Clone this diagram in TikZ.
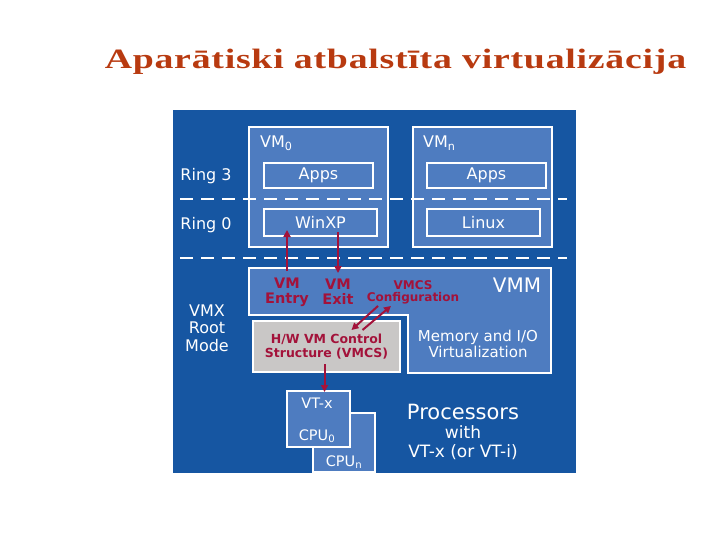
\documentclass[tikz,border=0pt]{standalone}
\usepackage{fontspec}
\setmainfont{DejaVu Sans}
\newfontfamily\titlefont[LetterSpace=2]{Liberation Serif}
\usetikzlibrary{arrows.meta, calc}

\definecolor{bgblue}{RGB}{22,86,162}
\definecolor{boxblue}{RGB}{78,124,192}
\definecolor{vmcsgrey}{RGB}{201,199,198}
\definecolor{darkred}{RGB}{163,18,58}
\definecolor{titlered}{RGB}{184,58,16}

\tikzset{
  whitebox/.style={draw=white, line width=2pt, fill=boxblue},
  greybox/.style={draw=white, line width=2pt, fill=vmcsgrey},
  ringtext/.style={font=\fontsize{16}{17.5}\selectfont, align=center},
  boxtext/.style={font=\fontsize{16}{18}\selectfont},
  redtext/.style={text=darkred, font=\bfseries\fontsize{14.5}{15}\selectfont, align=center},
  redarrow/.style={draw=darkred, line width=2pt, -{Triangle[length=7pt, width=7pt]}},
  ringline/.style={draw=white, line width=2pt, dash pattern=on 13pt off 8pt}
}

\begin{document}
\begin{tikzpicture}[x=1pt, y=-1pt, every node/.style={text=white, inner sep=0pt}]
  \useasboundingbox (0,0) rectangle (720,540);

  % Titel
  \node[anchor=base, text=titlered, xscale=1.35, font=\titlefont\bfseries\fontsize{28}{30}\selectfont]
    (title) at (395.5,69) {Aparātiski atbalstīta virtualizācija};

  % Hintergrund
  \fill[bgblue] (173,110) rectangle (576,473);

  % Gast-VMs
  \node[whitebox, minimum width=139pt, minimum height=120pt] (vm0) at (318.5,187) {};
  \node[whitebox, minimum width=139pt, minimum height=120pt] (vmn) at (482.5,187) {};
  \node[boxtext, anchor=west] (vm0label) at (260,143) {VM\textsubscript{0}};
  \node[boxtext, anchor=west] (vmnlabel) at (423,143) {VM\textsubscript{n}};
  \node[whitebox, boxtext, minimum width=109pt, minimum height=25pt] (apps0) at (318.5,175.5) {Apps};
  \node[whitebox, boxtext, minimum width=119pt, minimum height=25pt] (appsn) at (486.5,175.5) {Apps};
  \node[whitebox, boxtext, minimum width=113pt, minimum height=27pt] (winxp) at (320.5,222.5) {WinXP};
  \node[whitebox, boxtext, minimum width=113pt, minimum height=27pt] (linux) at (483.5,222.5) {Linux};

  % Ring-Grenzen
  \draw[ringline] (180,199) -- (567,199);
  \draw[ringline] (180,258) -- (567,258);
  \node[ringtext] (ring3) at (206,176) {Ring 3};
  \node[ringtext] (ring0) at (206,225) {Ring 0};

  % VMM (L-Form)
  \draw[whitebox] (249,268) -- (551,268) -- (551,373) -- (408,373) -- (408,315) -- (249,315) -- cycle;
  \node[font=\fontsize{20}{22}\selectfont] (vmm) at (517,285) {VMM};
  \node[font=\fontsize{15}{16}\selectfont, align=center] (memio) at (478,344) {Memory and I/O\\Virtualization};
  \node[ringtext] (vmx) at (207,328) {VMX\\Root\\Mode};

  % VMCS
  \node[greybox, minimum width=147pt, minimum height=51pt, redtext,
        font=\bfseries\fontsize{12.5}{14}\selectfont] (vmcs) at (326.5,346.5) {H/W VM Control\\Structure (VMCS)};

  % Prozessoren
  \node[whitebox, minimum width=62pt, minimum height=59pt] (cpun) at (344,442.5) {};
  \node[whitebox, minimum width=63pt, minimum height=56pt] (cpu0) at (318.5,419) {};
  \node[font=\fontsize{14.5}{16}\selectfont] (vtx) at (317,403) {VT-x};
  \node[font=\fontsize{14.5}{16}\selectfont] (cpu0label) at (317,436) {CPU\textsubscript{0}};
  \node[font=\fontsize{14.5}{16}\selectfont] (cpunlabel) at (344,462) {CPU\textsubscript{n}};
  \node[font=\fontsize{21}{23}\selectfont] (proc) at (463,412) {Processors};
  \node[font=\fontsize{17}{19}\selectfont, align=center] (procwith) at (463,443) {with\\VT-x (or VT-i)};

  % Uebergaenge
  \node[redtext] (entry) at (287,292) {VM\\Entry};
  \node[redtext] (exit) at (338,292) {VM\\Exit};
  \node[redtext, font=\bfseries\fontsize{12}{12}\selectfont] (config) at (413,292) {VMCS\\Configuration};

  \draw[redarrow] (entry.north |- 0,271) -- (entry.north |- 0,230);
  \draw[redarrow] (exit.north |- 0,232) -- (exit.north |- 0,273);
  \draw[redarrow] ($(config.south)+(-35,2)$) -- ($(vmcs.north)+(25,10)$);
  \draw[redarrow] ($(vmcs.north)+(36,10)$) -- ($(config.south)+(-22,2)$);
  \draw[redarrow] ([yshift=9pt]vmcs.south -| cpu0.north) ++(6,0) -- ++(0,28);
\end{tikzpicture}
\end{document}
